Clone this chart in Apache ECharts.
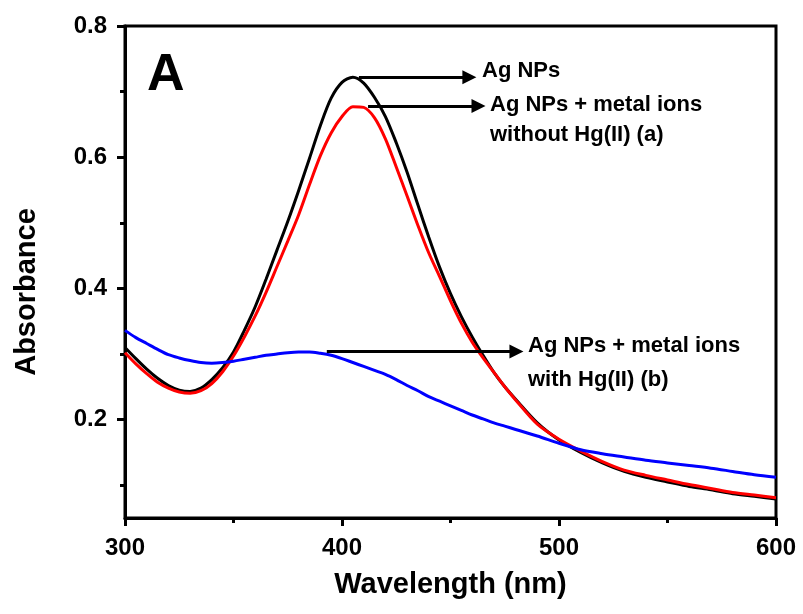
<!DOCTYPE html>
<html>
<head>
<meta charset="utf-8">
<title>Absorbance spectra</title>
<script src="https://cdn.jsdelivr.net/npm/echarts@6/dist/echarts.min.js"></script>
<style>
  html, body { margin: 0; padding: 0; background: #fff; }
  #chart { width: 803px; height: 614px; }
</style>
</head>
<body>
<div id="chart"></div>
<script>
// Wavelength grid (nm) shared by all three spectra
const wavelengths = [300, 305, 310, 315, 320, 325, 330, 335, 340, 345, 350, 355, 360, 365, 370, 375, 380, 385, 390, 395,
  400, 405, 410, 415, 420, 425, 430, 435, 440, 445, 450, 455, 460, 465, 470, 475, 480, 490, 500, 510,
  520, 530, 540, 550, 560, 570, 580, 590, 600];

// Ag NPs
const agNPs = [0.310, 0.293, 0.277, 0.263, 0.252, 0.245, 0.243, 0.248, 0.261, 0.279, 0.303, 0.336, 0.372, 0.414, 0.458, 0.502, 0.549, 0.598, 0.648, 0.690,
  0.714, 0.722, 0.713, 0.691, 0.662, 0.622, 0.577, 0.527, 0.478, 0.432, 0.392, 0.357, 0.326, 0.298, 0.272, 0.250, 0.231, 0.195, 0.169, 0.150,
  0.134, 0.121, 0.112, 0.105, 0.098, 0.093, 0.087, 0.083, 0.079];

// Ag NPs + metal ions without Hg(II) (a)
const withoutHg = [0.302, 0.285, 0.270, 0.257, 0.248, 0.242, 0.240, 0.244, 0.255, 0.273, 0.297, 0.326, 0.358, 0.394, 0.433, 0.472, 0.512, 0.558, 0.602, 0.637,
  0.662, 0.677, 0.676, 0.660, 0.628, 0.585, 0.541, 0.496, 0.454, 0.418, 0.381, 0.347, 0.318, 0.294, 0.272, 0.250, 0.230, 0.193, 0.170, 0.152,
  0.136, 0.123, 0.115, 0.108, 0.101, 0.095, 0.089, 0.085, 0.081];

// Ag NPs + metal ions with Hg(II) (b)
const withHg = [0.336, 0.325, 0.316, 0.307, 0.299, 0.294, 0.290, 0.287, 0.286, 0.287, 0.289, 0.292, 0.295, 0.298, 0.300, 0.302, 0.303, 0.303, 0.301, 0.298,
  0.293, 0.287, 0.281, 0.275, 0.269, 0.261, 0.252, 0.244, 0.235, 0.228, 0.221, 0.214, 0.207, 0.201, 0.195, 0.190, 0.185, 0.175, 0.164, 0.154,
  0.148, 0.143, 0.138, 0.134, 0.130, 0.126, 0.121, 0.116, 0.112];

// Axis ticks
const yMajorTicks = [0.2, 0.4, 0.6, 0.8];
const yMinorTicks = [0.1, 0.3, 0.5, 0.7];

// Annotation arrows: [start wavelength, end wavelength, absorbance]
const arrowAgNPs = [407.8, 458.7, 0.722];
const arrowWithoutHg = [412.0, 462.9, 0.678];
const arrowWithHg = [393.0, 480.4, 0.304];

const FONT = '"Liberation Sans", Arial, Helvetica, sans-serif';

const pairs = (ys) => wavelengths.map((x, i) => [x, ys[i]]);

function arrow(spec) {
  return {
    silent: true,
    symbol: ['none', 'triangle'],
    symbolSize: 14,
    label: { show: false },
    emphasis: { disabled: true },
    lineStyle: { color: '#000', width: 3, type: 'solid' },
    itemStyle: { color: '#000' },
    animation: false,
    data: [[{ coord: [spec[0], spec[2]] }, { coord: [spec[1], spec[2]] }]]
  };
}

function label(text, x, y, size) {
  return {
    type: 'text', left: x, top: y, silent: true,
    style: { text: text, fill: '#000', font: 'bold ' + size + 'px ' + FONT }
  };
}

const chart = echarts.init(document.getElementById('chart'), null, { renderer: 'canvas' });

const tickLabel = { color: '#000', fontWeight: 'bold', fontSize: 24, fontFamily: FONT };

chart.setOption({
  animation: false,
  backgroundColor: '#fff',
  grid: { left: 125, right: 27, top: 26, bottom: 96, show: true, borderColor: '#000', borderWidth: 3, backgroundColor: 'transparent' },
  xAxis: {
    type: 'value', min: 300, max: 600, interval: 100,
    name: 'Wavelength (nm)', nameLocation: 'middle', nameGap: 52,
    nameTextStyle: { color: '#000', fontWeight: 'bold', fontSize: 29, fontFamily: FONT },
    axisLine: { show: true, lineStyle: { color: '#000', width: 3 } },
    axisTick: { show: true, inside: false, length: 8, lineStyle: { color: '#000', width: 3 } },
    minorTick: { show: true, splitNumber: 2, length: 5, lineStyle: { color: '#000', width: 3 } },
    axisLabel: Object.assign({ margin: 18 }, tickLabel),
    splitLine: { show: false }
  },
  yAxis: [
    {
      type: 'value', min: 0.05, max: 0.8, position: 'left',
      name: 'Absorbance', nameLocation: 'middle', nameGap: 84, nameRotate: 90,
      nameTextStyle: { color: '#000', fontWeight: 'bold', fontSize: 29, fontFamily: FONT, padding: [0, 40, 0, 0] },
      axisLine: { show: true, lineStyle: { color: '#000', width: 3 } },
      axisTick: { show: true, inside: false, length: 8, customValues: yMajorTicks, lineStyle: { color: '#000', width: 3 } },
      axisLabel: Object.assign({ margin: 18, customValues: yMajorTicks, formatter: (v) => v.toFixed(1) }, tickLabel),
      splitLine: { show: false }
    },
    {
      type: 'value', min: 0.05, max: 0.8, position: 'left', offset: 0,
      axisLine: { show: false },
      axisTick: { show: true, inside: false, length: 5, customValues: yMinorTicks, lineStyle: { color: '#000', width: 3 } },
      axisLabel: { show: false },
      splitLine: { show: false }
    }
  ],
  series: [
    {
      name: 'Ag NPs', type: 'line', data: pairs(agNPs), smooth: 0.3, showSymbol: false,
      lineStyle: { color: '#000', width: 3 }, itemStyle: { color: '#000' },
      markLine: arrow(arrowAgNPs)
    },
    {
      name: 'Ag NPs + metal ions without Hg(II) (a)', type: 'line', data: pairs(withoutHg), smooth: 0.3, showSymbol: false,
      lineStyle: { color: '#ff0000', width: 3 }, itemStyle: { color: '#ff0000' },
      markLine: arrow(arrowWithoutHg)
    },
    {
      name: 'Ag NPs + metal ions with Hg(II) (b)', type: 'line', data: pairs(withHg), smooth: 0.3, showSymbol: false,
      lineStyle: { color: '#0000ff', width: 3 }, itemStyle: { color: '#0000ff' },
      markLine: arrow(arrowWithHg)
    }
  ],
  graphic: [
    label('A', 147, 50, 52),
    label('Ag NPs', 482, 60, 22),
    label('Ag NPs + metal ions', 490, 94, 22),
    label('without Hg(II) (a)', 490, 124, 22),
    label('Ag NPs + metal ions', 528, 335, 22),
    label('with Hg(II) (b)', 528, 369, 22)
  ]
});
</script>
</body>
</html>
